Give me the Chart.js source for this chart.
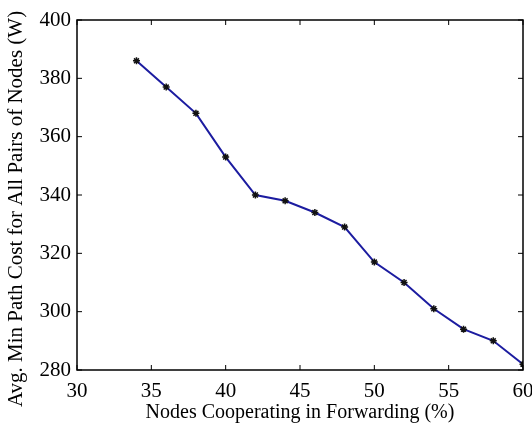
<!DOCTYPE html>
<html>
<head>
<meta charset="utf-8">
<script src="https://cdn.jsdelivr.net/npm/chart.js@4"></script>
<style>
  html, body { margin: 0; padding: 0; background: #fff; }
  #wrap { width: 532px; height: 428px; }
</style>
</head>
<body>
<div id="wrap"><canvas id="myChart"></canvas></div>
<script>
// data
const nodesPct = [34, 36, 38, 40, 42, 44, 46, 48, 50, 52, 54, 56, 58, 60];
const pathCost = [386, 377, 368, 353, 340, 338, 334, 329, 317, 310, 301, 294, 290, 282];
const xTicks = [30, 35, 40, 45, 50, 55, 60];
const yTicks = [280, 300, 320, 340, 360, 380, 400];
const yLabel = 'Avg. Min Path Cost for All Pairs of Nodes (W)';

const serif = 'Liberation Serif, Times New Roman, serif';

// MATLAB style box with inward ticks, plus the y label (sits lower than centre in the original)
const boxTicks = {
    id: 'boxTicks',
    afterDraw(chart) {
        const ctx = chart.ctx;
        const a = chart.chartArea;
        const xs = chart.scales.x, ys = chart.scales.y;
        const len = 5;
        ctx.save();
        ctx.strokeStyle = '#000';
        ctx.lineWidth = 1.5;
        ctx.strokeRect(a.left, a.top, a.right - a.left, a.bottom - a.top);
        ctx.lineWidth = 1;
        ctx.beginPath();
        xTicks.forEach(v => {
            const px = xs.getPixelForValue(v);
            ctx.moveTo(px, a.bottom); ctx.lineTo(px, a.bottom - len);
            ctx.moveTo(px, a.top); ctx.lineTo(px, a.top + len);
        });
        yTicks.forEach(v => {
            const py = ys.getPixelForValue(v);
            ctx.moveTo(a.left, py); ctx.lineTo(a.left + len, py);
            ctx.moveTo(a.right, py); ctx.lineTo(a.right - len, py);
        });
        ctx.stroke();

        ctx.translate(16, 209);
        ctx.rotate(-Math.PI / 2);
        ctx.fillStyle = '#000';
        ctx.font = '21px ' + serif;
        ctx.textAlign = 'center';
        ctx.textBaseline = 'middle';
        ctx.fillText(yLabel, 0, 0);
        ctx.restore();
    }
};

const myChart = document.getElementById('myChart').getContext('2d');

new Chart(myChart, {
    type: 'line',
    data: {
        datasets: [{
            data: nodesPct.map((x, i) => ({ x: x, y: pathCost[i] })),
            borderColor: '#1c1ca0',
            borderWidth: 2,
            pointStyle: 'star',
            pointRadius: 3.5,
            pointBorderColor: '#111',
            pointBackgroundColor: '#111',
            pointBorderWidth: 1.5,
            tension: 0
        }]
    },
    options: {
        responsive: true,
        maintainAspectRatio: false,
        animation: false,
        layout: { padding: { left: 0, right: 9, top: 20, bottom: 0 } },
        plugins: {
            legend: { display: false },
            tooltip: { enabled: false }
        },
        scales: {
            x: {
                type: 'linear',
                min: 30,
                max: 60,
                afterBuildTicks: s => { s.ticks = xTicks.map(v => ({ value: v })); },
                afterFit: s => { s.height = 58; s.paddingLeft = 0; s.paddingRight = 0; },
                grid: { display: false, drawTicks: false },
                border: { display: false },
                ticks: {
                    color: '#000',
                    padding: 9,
                    maxRotation: 0,
                    font: { family: serif, size: 21 }
                },
                title: {
                    display: true,
                    text: 'Nodes Cooperating in Forwarding (%)',
                    color: '#000',
                    padding: { top: 3, bottom: 3 },
                    font: { family: serif, size: 20 }
                }
            },
            y: {
                type: 'linear',
                min: 280,
                max: 400,
                afterBuildTicks: s => { s.ticks = yTicks.map(v => ({ value: v })); },
                afterFit: s => { s.width = 77; s.paddingTop = 0; s.paddingBottom = 0; },
                grid: { display: false, drawTicks: false },
                border: { display: false },
                ticks: {
                    color: '#000',
                    padding: 6,
                    font: { family: serif, size: 21 }
                }
            }
        }
    },
    plugins: [boxTicks]
});
</script>
</body>
</html>
